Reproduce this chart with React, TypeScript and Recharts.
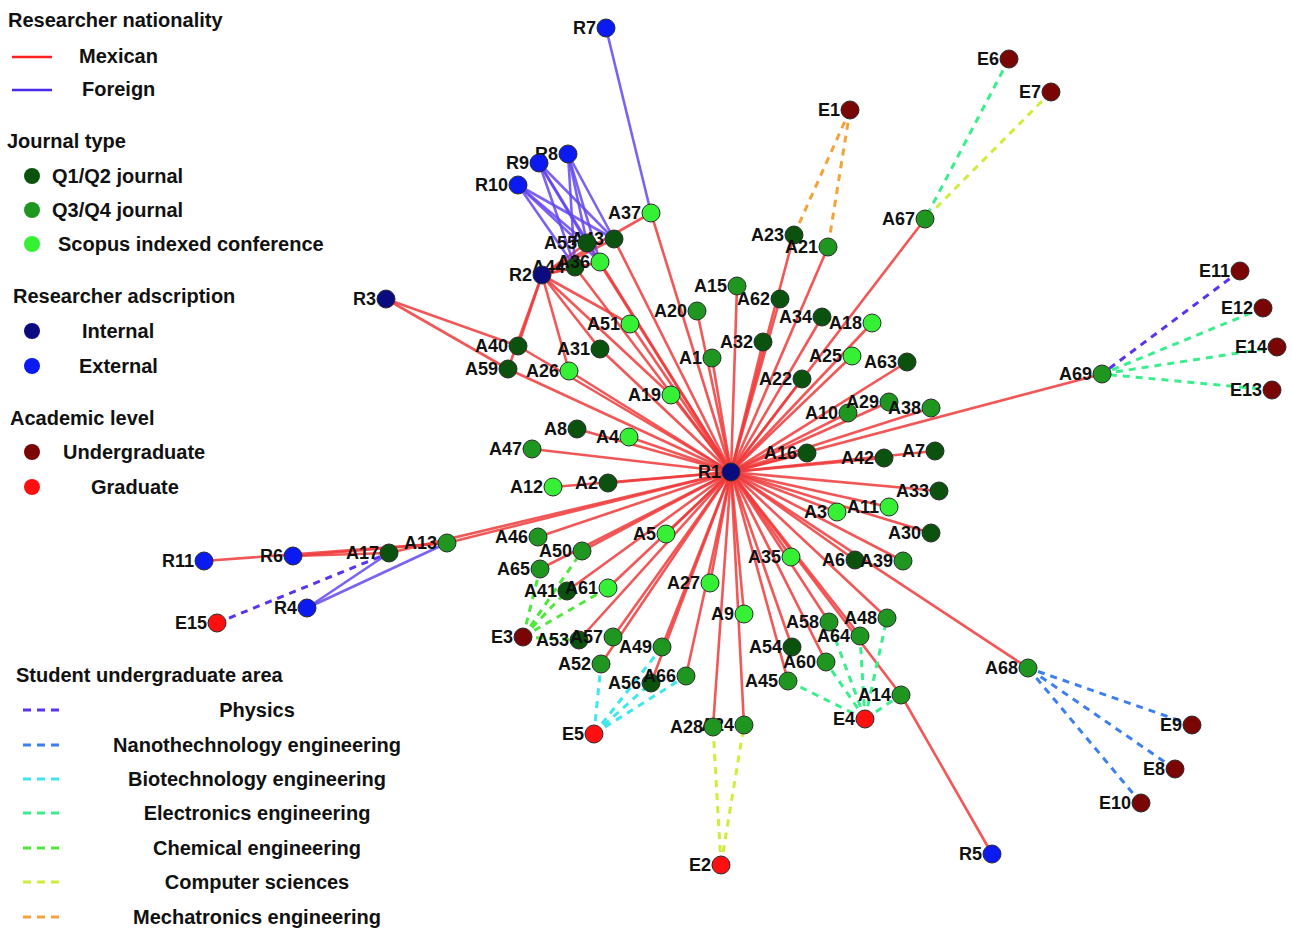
import { Scatter, ScatterChart, XAxis, YAxis } from 'recharts';

type NodeRow = [string, number, number];
type Link = [string, string];

// node positions (layout coordinates)
const internalResearchers: NodeRow[] = [
  ['R1', 731, 472], ['R2', 542, 275], ['R3', 386, 299],
];
const externalResearchers: NodeRow[] = [
  ['R4', 307, 608], ['R5', 992, 854], ['R6', 293, 556], ['R7', 606, 28],
  ['R8', 568, 154], ['R9', 539, 163], ['R10', 518, 185], ['R11', 204, 561],
];
const undergraduates: NodeRow[] = [
  ['E1', 850, 110], ['E3', 523, 637], ['E6', 1009, 59], ['E7', 1051, 92],
  ['E8', 1175, 769], ['E9', 1192, 725], ['E10', 1141, 803], ['E11', 1240, 271],
  ['E12', 1263, 308], ['E13', 1272, 390], ['E14', 1277, 347],
];
const graduates: NodeRow[] = [
  ['E2', 721, 865], ['E4', 865, 719], ['E5', 594, 734], ['E15', 217, 623],
];
const q12Papers: NodeRow[] = [
  ['A2', 608, 483], ['A6', 855, 560], ['A7', 935, 451], ['A8', 577, 429],
  ['A16', 807, 453], ['A17', 389, 553], ['A22', 802, 379], ['A23', 794, 235],
  ['A30', 931, 533], ['A31', 600, 349], ['A32', 763, 342], ['A33', 939, 491],
  ['A34', 822, 317], ['A40', 518, 346], ['A41', 567, 591], ['A42', 884, 458],
  ['A43', 614, 239], ['A44', 575, 267], ['A53', 579, 640], ['A54', 792, 647],
  ['A55', 587, 243], ['A56', 651, 683], ['A59', 508, 369], ['A62', 780, 299],
  ['A63', 907, 362],
];
const q34Papers: NodeRow[] = [
  ['A1', 712, 358], ['A10', 848, 413], ['A13', 447, 543], ['A14', 901, 695],
  ['A15', 737, 286], ['A20', 697, 311], ['A21', 828, 247], ['A24', 744, 725],
  ['A28', 713, 727], ['A29', 889, 402], ['A38', 931, 408], ['A39', 903, 561],
  ['A45', 788, 681], ['A46', 538, 537], ['A47', 532, 449], ['A48', 887, 618],
  ['A49', 662, 647], ['A50', 582, 551], ['A52', 601, 664], ['A57', 613, 637],
  ['A58', 829, 622], ['A60', 826, 662], ['A64', 860, 636], ['A65', 540, 569],
  ['A66', 686, 676], ['A67', 925, 219], ['A68', 1028, 668], ['A69', 1102, 374],
];
const conferencePapers: NodeRow[] = [
  ['A3', 837, 512], ['A4', 629, 437], ['A5', 666, 534], ['A9', 744, 614],
  ['A11', 889, 507], ['A12', 553, 487], ['A18', 872, 323], ['A19', 671, 395],
  ['A25', 852, 356], ['A26', 569, 371], ['A27', 710, 583], ['A35', 791, 557],
  ['A36', 600, 262], ['A37', 651, 213], ['A51', 630, 324], ['A61', 608, 588],
];

// researcher - paper links
const mexicanLinks: Link[] = [
  ['R2', 'A44'], ['R2', 'A36'], ['R2', 'A55'], ['R2', 'A43'], ['R2', 'A37'],
  ['R2', 'A51'], ['R2', 'A31'], ['R2', 'A19'], ['R2', 'A26'], ['R2', 'A40'],
  ['R2', 'A59'], ['R3', 'A40'], ['R3', 'A59'], ['R11', 'A13'], ['R6', 'A17'],
  ['R6', 'A13'], ['R5', 'A14'],
];
const foreignLinks: Link[] = [
  ['R7', 'A37'], ['R8', 'A55'], ['R8', 'A43'], ['R8', 'A44'], ['R8', 'A36'],
  ['R9', 'A55'], ['R9', 'A43'], ['R9', 'A44'], ['R9', 'A36'],
  ['R10', 'A55'], ['R10', 'A43'], ['R10', 'A44'], ['R10', 'A36'],
  ['R4', 'A17'], ['R4', 'A13'],
];

// student - paper links by undergraduate area
const physicsLinks: Link[] = [['E15', 'A17'], ['E11', 'A69']];
const nanoLinks: Link[] = [['E9', 'A68'], ['E8', 'A68'], ['E10', 'A68']];
const biotechLinks: Link[] = [['E5', 'A52'], ['E5', 'A56'], ['E5', 'A49'], ['E5', 'A66']];
const electronicsLinks: Link[] = [
  ['E6', 'A67'], ['E12', 'A69'], ['E14', 'A69'], ['E13', 'A69'],
  ['E4', 'A45'], ['E4', 'A60'], ['E4', 'A58'], ['E4', 'A64'], ['E4', 'A48'], ['E4', 'A14'],
];
const chemicalLinks: Link[] = [['E3', 'A65'], ['E3', 'A50'], ['E3', 'A41'], ['E3', 'A61'], ['E3', 'A53']];
const computerLinks: Link[] = [['E7', 'A67'], ['E2', 'A28'], ['E2', 'A24']];
const mechatronicsLinks: Link[] = [['E1', 'A23'], ['E1', 'A21']];

const areaLabels = [
  'Physics', 'Nanothechnology engineering', 'Biotechnology engineering',
  'Electronics engineering', 'Chemical engineering', 'Computer sciences',
  'Mechatronics engineering',
];

const FONT = '"Liberation Sans", Arial, sans-serif';
const W = 1292;
const H = 929;

const C = {
  mexican: '#f03a3a',
  foreign: '#6447ee',
  internal: '#0b0b80',
  external: '#0a1af0',
  under: '#7a0505',
  grad: '#ff1010',
  q12: '#0c520f',
  q34: '#1f961f',
  conf: '#35f035',
};
const areaColors = ['#5a33ee', '#3c7ff0', '#3ee6ee', '#3aee8c', '#4ee83a', '#cdee3a', '#f5a23a'];
const areaLinks = [physicsLinks, nanoLinks, biotechLinks, electronicsLinks, chemicalLinks, computerLinks, mechatronicsLinks];

const allNodes = [
  ...internalResearchers, ...externalResearchers, ...undergraduates, ...graduates,
  ...q12Papers, ...q34Papers, ...conferencePapers,
];
const pos: Record<string, { x: number; y: number }> = {};
allNodes.forEach(([id, x, y]) => { pos[id] = { x, y }; });

// every paper is linked to R1
const r1Links: Link[] = [...q12Papers, ...q34Papers, ...conferencePapers].map(([id]) => ['R1', id] as Link);

const toData = (rows: NodeRow[]) => rows.map(([name, x, y]) => ({ name, x, y }));
const linkData = ([a, b]: Link) => [
  { x: pos[a].x, y: pos[a].y },
  { x: pos[b].x, y: pos[b].y },
];

const noDot = () => <g />;

function NodeShape(props: any) {
  const { cx, cy, payload, fill } = props;
  return (
    <g>
      <circle cx={cx} cy={cy} r={9} fill={fill} stroke="#2b2b2b" strokeWidth={1} />
      <text
        x={cx - 10}
        y={cy + 6}
        textAnchor="end"
        fontFamily={FONT}
        fontWeight="bold"
        fontSize={18}
        fill="#111"
      >
        {payload.name}
      </text>
    </g>
  );
}

function renderLinks(links: Link[], color: string, prefix: string, dashed = false) {
  return links.map((l, i) => (
    <Scatter
      key={`${prefix}-${i}`}
      data={linkData(l)}
      fill={color}
      shape={noDot}
      line={{ stroke: color, strokeWidth: dashed ? 3 : 2.6, strokeDasharray: dashed ? '7 6' : undefined, strokeOpacity: dashed ? 1 : 0.85 }}
      lineType="joint"
      legendType="none"
      isAnimationActive={false}
    />
  ));
}

function LegendBox() {
  const t = { fontFamily: FONT, fontWeight: 'bold' as const, fontSize: 20, fill: '#111' };
  const dots: [string, number, number, string][] = [
    [C.q12, 176, 52, 'Q1/Q2 journal'],
    [C.q34, 210, 52, 'Q3/Q4 journal'],
    [C.conf, 244, 58, 'Scopus indexed conference'],
    [C.internal, 331, 82, 'Internal'],
    [C.external, 366, 79, 'External'],
    [C.under, 452, 63, 'Undergraduate'],
    [C.grad, 487, 91, 'Graduate'],
  ];
  const areaY = [710, 745, 779, 813, 848, 882, 917];
  return (
    <svg width={W} height={H} style={{ position: 'absolute', left: 0, top: 0, pointerEvents: 'none' }}>
      <text x={8} y={27} {...t}>Researcher nationality</text>
      <line x1={12} x2={52} y1={57} y2={57} stroke="#ff2020" strokeWidth={2.5} />
      <text x={79} y={63} {...t}>Mexican</text>
      <line x1={12} x2={52} y1={90} y2={90} stroke="#4a2af0" strokeWidth={2.5} />
      <text x={82} y={96} {...t}>Foreign</text>
      <text x={7} y={148} {...t}>Journal type</text>
      <text x={13} y={303} {...t}>Researcher adscription</text>
      <text x={10} y={425} {...t}>Academic level</text>
      {dots.map(([c, y, x, label]) => (
        <g key={label}>
          <circle cx={32} cy={y} r={8} fill={c} />
          <text x={x} y={y + 7} {...t}>{label}</text>
        </g>
      ))}
      <text x={16} y={682} {...t}>Student undergraduate area</text>
      {areaLabels.map((label, i) => (
        <g key={label}>
          <line x1={23} x2={60} y1={areaY[i]} y2={areaY[i]} stroke={areaColors[i]} strokeWidth={3} strokeDasharray="8 6" />
          <text x={257} y={areaY[i] + 7} textAnchor="middle" {...t}>{label}</text>
        </g>
      ))}
    </svg>
  );
}

export default function App() {
  return (
    <div style={{ position: 'absolute', left: 0, top: 0, width: W, height: H, background: '#fff' }}>
      <ScatterChart width={W} height={H} margin={{ top: 0, right: 0, bottom: 0, left: 0 }}>
        <XAxis type="number" dataKey="x" domain={[0, W]} hide height={0} />
        <YAxis type="number" dataKey="y" domain={[0, H]} reversed hide width={0} />
        {renderLinks(r1Links, C.mexican, 'r1')}
        {renderLinks(mexicanLinks, C.mexican, 'mx')}
        {renderLinks(foreignLinks, C.foreign, 'fo')}
        {areaLinks.map((links, i) => renderLinks(links, areaColors[i], `area${i}`, true))}
        <Scatter data={toData(q12Papers)} fill={C.q12} shape={NodeShape} isAnimationActive={false} />
        <Scatter data={toData(q34Papers)} fill={C.q34} shape={NodeShape} isAnimationActive={false} />
        <Scatter data={toData(conferencePapers)} fill={C.conf} shape={NodeShape} isAnimationActive={false} />
        <Scatter data={toData(undergraduates)} fill={C.under} shape={NodeShape} isAnimationActive={false} />
        <Scatter data={toData(graduates)} fill={C.grad} shape={NodeShape} isAnimationActive={false} />
        <Scatter data={toData(externalResearchers)} fill={C.external} shape={NodeShape} isAnimationActive={false} />
        <Scatter data={toData(internalResearchers)} fill={C.internal} shape={NodeShape} isAnimationActive={false} />
      </ScatterChart>
      <LegendBox />
    </div>
  );
}
